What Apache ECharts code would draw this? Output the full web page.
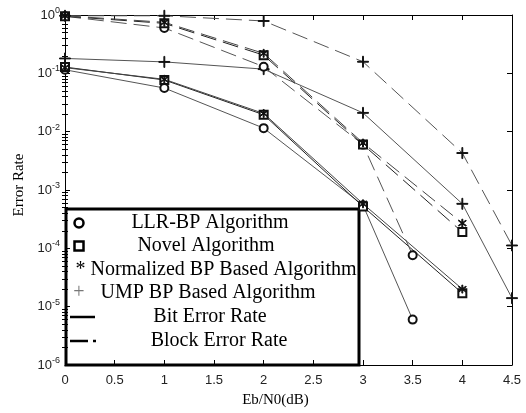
<!DOCTYPE html>
<html>
<head>
<meta charset="utf-8">
<script src="https://cdn.jsdelivr.net/npm/echarts@6/dist/echarts.min.js"></script>
<style>
html,body{margin:0;padding:0;background:#fff;}
#chart{width:526px;height:413px;}
</style>
</head>
<body>
<div id="chart"></div>
<script>
// Eb/N0 points of each curve
var snrLlr = [0, 1, 2, 3, 3.5];
var snrNovel = [0, 1, 2, 3, 4];
var snrNorm = [0, 1, 2, 3, 4];
var snrUmp = [0, 1, 2, 3, 4, 4.5];

// bit error rate
var llrBer = [0.115, 0.056, 0.0115, 5.5e-4, 6e-6];
var novelBer = [0.128, 0.077, 0.0195, 5.2e-4, 1.7e-5];
var normBer = [0.125, 0.079, 0.0205, 5.8e-4, 2.0e-5];
var umpBer = [0.18, 0.157, 0.118, 0.021, 5.8e-4, 1.4e-5];

// block error rate
var llrBler = [0.95, 0.6, 0.13, 6.0e-3, 7.6e-5];
var novelBler = [0.95, 0.72, 0.205, 6.0e-3, 1.9e-4];
var normBler = [0.97, 0.75, 0.22, 6.4e-3, 2.7e-4];
var umpBler = [0.97, 0.97, 0.79, 0.158, 4.3e-3, 1.12e-4];

var xTicks = {min: 0, max: 4.5, interval: 0.5};
var decades = [-6, -5, -4, -3, -2, -1];
var minorMul = [2, 3, 4, 5, 6, 7, 8, 9];

// minor tick positions in log10 space, drawn on a plain value axis -6..0
var minorLog = [];
for (var i = 0; i < decades.length; i++) {
    for (var j = 0; j < minorMul.length; j++) {
        minorLog.push(decades[i] + Math.log(minorMul[j]) / Math.LN10);
    }
}

function pairs(xs, ys) {
    var out = [];
    for (var i = 0; i < xs.length; i++) {
        out.push([xs[i], ys[i]]);
    }
    return out;
}

var plusPath = 'path://M4.6,0H5.4V10H4.6Z M0,4.6H10V5.4H0Z';
var starPath = 'path://M4.5,0H5.5V10H4.5Z M0.8,2.1L1.3,1.3L9.2,7.9L8.7,8.7Z M8.7,1.3L9.2,2.1L1.3,8.7L0.8,7.9Z';

function curve(name, xs, ys, color, dashed, symbol, size) {
    return {
        name: name,
        type: 'line',
        data: pairs(xs, ys),
        symbol: symbol,
        symbolSize: size,
        showSymbol: true,
        animation: false,
        lineStyle: {color: color, width: 1, type: dashed ? [16, 7] : 'solid'},
        itemStyle: {color: '#111', borderColor: '#111', borderWidth: 1},
        z: 3
    };
}

var serif = '"Liberation Serif", "DejaVu Serif", serif';

function minorAxis(pos) {
    return {
        type: 'value', min: -6, max: 0, position: pos,
        axisLine: {show: false},
        axisTick: {inside: true, length: 3, customValues: minorLog, lineStyle: {color: '#000'}},
        axisLabel: {show: false},
        splitLine: {show: false}
    };
}

var chart = echarts.init(document.getElementById('chart'));

var option = {
    backgroundColor: '#fff',
    animation: false,
    grid: {left: 65, right: 14, top: 15, bottom: 48, containLabel: false},
    xAxis: [
        {
            type: 'value', min: xTicks.min, max: xTicks.max, interval: xTicks.interval,
            position: 'bottom',
            axisLine: {onZero: false, lineStyle: {color: '#000', width: 1}},
            axisTick: {inside: true, length: 5, lineStyle: {color: '#000'}},
            axisLabel: {margin: 9, fontFamily: 'Liberation Sans', fontSize: 13, color: '#222'},
            splitLine: {show: false},
            name: 'Eb/N0(dB)', nameLocation: 'middle', nameGap: 28,
            nameTextStyle: {fontFamily: 'Liberation Serif', fontSize: 15, color: '#000', padding: [0, 26, 0, 0]}
        },
        {
            type: 'value', min: xTicks.min, max: xTicks.max, interval: xTicks.interval,
            position: 'top',
            axisLine: {onZero: false, lineStyle: {color: '#000', width: 1}},
            axisTick: {inside: true, length: 5, lineStyle: {color: '#000'}},
            axisLabel: {show: false},
            splitLine: {show: false}
        }
    ],
    yAxis: [
        {
            type: 'log', logBase: 10, min: 1e-6, max: 1,
            position: 'left',
            axisLine: {onZero: false, lineStyle: {color: '#000', width: 1}},
            axisTick: {inside: true, length: 5, lineStyle: {color: '#000'}},
            axisLabel: {
                margin: 5,
                formatter: function (v) {
                    var e = Math.round(Math.log(v) / Math.LN10);
                    return '{b|10}{s|' + e + '}';
                },
                rich: {
                    b: {fontFamily: 'Liberation Sans', fontSize: 13, color: '#222'},
                    s: {fontFamily: 'Liberation Sans', fontSize: 9, color: '#222', padding: [0, 0, 9, 0]}
                }
            },
            splitLine: {show: false},
            name: 'Error Rate', nameLocation: 'middle', nameGap: 33,
            nameTextStyle: {fontFamily: 'Liberation Serif', fontSize: 15, color: '#000', padding: [0, 0, 0, 10]}
        },
        minorAxis('left'),
        {
            type: 'log', logBase: 10, min: 1e-6, max: 1, position: 'right',
            axisLine: {onZero: false, lineStyle: {color: '#000', width: 1}},
            axisTick: {inside: true, length: 5, lineStyle: {color: '#000'}},
            axisLabel: {show: false},
            splitLine: {show: false}
        },
        minorAxis('right')
    ],
    series: [
        curve('LLR-BP BER', snrLlr, llrBer, '#555', false, 'emptyCircle', 8),
        curve('Novel BER', snrNovel, novelBer, '#222', false, 'emptyRect', 8),
        curve('Normalized BER', snrNorm, normBer, '#444', false, starPath, 8),
        curve('UMP BER', snrUmp, umpBer, '#555', false, plusPath, 11),
        curve('LLR-BP BLER', snrLlr, llrBler, '#555', true, 'emptyCircle', 8),
        curve('Novel BLER', snrNovel, novelBler, '#222', true, 'emptyRect', 8),
        curve('Normalized BLER', snrNorm, normBler, '#444', true, starPath, 8),
        curve('UMP BLER', snrUmp, umpBler, '#555', true, plusPath, 11)
    ],
    graphic: [
        {
            type: 'group', z: 100,
            children: [
                {type: 'rect', shape: {x: 66, y: 209, width: 293, height: 156},
                    style: {fill: '#fff', stroke: '#000', lineWidth: 3}},
                {type: 'circle', shape: {cx: 79, cy: 223, r: 4.5},
                    style: {fill: 'none', stroke: '#000', lineWidth: 2.5}},
                {type: 'rect', shape: {x: 74.5, y: 241.5, width: 9, height: 9},
                    style: {fill: 'none', stroke: '#000', lineWidth: 2.5}},
                {type: 'text', style: {text: '+', x: 79, y: 293, align: 'center', verticalAlign: 'middle', font: '20px ' + serif, fill: '#777'}},
                {type: 'line', shape: {x1: 70, y1: 317, x2: 95, y2: 317}, style: {stroke: '#000', lineWidth: 2.5}},
                {type: 'line', shape: {x1: 70, y1: 341, x2: 88, y2: 341}, style: {stroke: '#000', lineWidth: 2.5}},
                {type: 'line', shape: {x1: 93, y1: 341, x2: 96, y2: 341}, style: {stroke: '#000', lineWidth: 2.5}},
                {type: 'text', style: {text: 'LLR-BP Algorithm', x: 210, y: 223, align: 'center', verticalAlign: 'middle', font: '20px ' + serif, fill: '#000'}},
                {type: 'text', style: {text: 'Novel Algorithm', x: 206, y: 246, align: 'center', verticalAlign: 'middle', font: '20px ' + serif, fill: '#000'}},
                {type: 'text', style: {text: '* Normalized BP Based Algorithm', x: 216, y: 270, align: 'center', verticalAlign: 'middle', font: '20px ' + serif, fill: '#000'}},
                {type: 'text', style: {text: 'UMP BP Based Algorithm', x: 208, y: 293, align: 'center', verticalAlign: 'middle', font: '20px ' + serif, fill: '#000'}},
                {type: 'text', style: {text: 'Bit Error Rate', x: 210, y: 317, align: 'center', verticalAlign: 'middle', font: '20px ' + serif, fill: '#000'}},
                {type: 'text', style: {text: 'Block Error Rate', x: 219, y: 341, align: 'center', verticalAlign: 'middle', font: '20px ' + serif, fill: '#000'}}
            ]
        }
    ]
};

chart.setOption(option);
</script>
</body>
</html>
